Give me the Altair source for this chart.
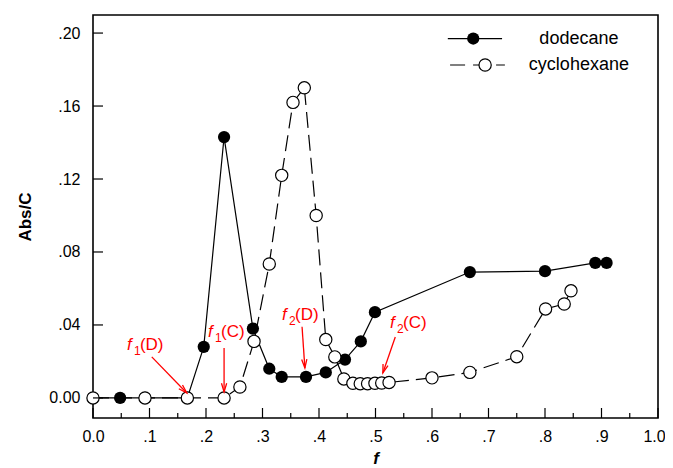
import altair as alt
import pandas as pd

# ---- data ----
dod_f = [0.0, 0.048, 0.092, 0.167, 0.196, 0.232, 0.283, 0.312, 0.334, 0.377,
         0.412, 0.446, 0.474, 0.499, 0.667, 0.800, 0.889, 0.909]
dod_v = [0.0, 0.0, 0.0, 0.0, 0.028, 0.143, 0.038, 0.016, 0.0115, 0.0115,
         0.014, 0.021, 0.031, 0.047, 0.069, 0.0695, 0.074, 0.074]

cyc_f = [0.0, 0.092, 0.167, 0.232, 0.260, 0.285, 0.312, 0.334, 0.354, 0.374,
         0.395, 0.412, 0.428, 0.444, 0.460, 0.473, 0.486, 0.499, 0.511, 0.524,
         0.600, 0.667, 0.750, 0.801, 0.834, 0.846]
cyc_v = [0.0, 0.0, 0.0, 0.0, 0.006, 0.031, 0.0734, 0.122, 0.162, 0.170,
         0.100, 0.032, 0.0225, 0.0104, 0.008, 0.0078, 0.0078, 0.008, 0.0082, 0.0085,
         0.011, 0.014, 0.0226, 0.0488, 0.0515, 0.0587]

x_ticks = [0.0, 0.1, 0.2, 0.3, 0.4, 0.5, 0.6, 0.7, 0.8, 0.9, 1.0]
x_minor = [0.05, 0.15, 0.25, 0.35, 0.45, 0.55, 0.65, 0.75, 0.85, 0.95]
y_ticks = [0.0, 0.04, 0.08, 0.12, 0.16, 0.20]

# annotations (red)
ann_sub = ["1", "1", "2", "2"]
ann_tail = ["(D)", "(C)", "(D)", "(C)"]
ann_x = [0.060, 0.2035, 0.3345, 0.5257]
ann_y = [0.0263, 0.0334, 0.0427, 0.0384]
arr_x1 = [0.104, 0.232, 0.370, 0.535]
arr_y1 = [0.0225, 0.0274, 0.0390, 0.0334]
arr_x2 = [0.166, 0.232, 0.375, 0.513]
arr_y2 = [0.0027, 0.0033, 0.0164, 0.0137]
arr_angle = [315, 0, 356, 18]

# legend
leg_names = ["dodecane", "cyclohexane"]
leg_y = [0.197, 0.1825]
leg_x1 = [0.628, 0.632]
leg_x2 = [0.724, 0.729]
leg_px = [0.673, 0.694]
leg_tx = 0.860

XD = [0.0, 1.0]
YD = [-0.011, 0.2099]
FONT = "Liberation Sans"

dod = pd.DataFrame({"f": dod_f, "v": dod_v})
cyc = pd.DataFrame({"f": cyc_f, "v": cyc_v})

xlabel = "datum.value == 0 ? '0.0' : (datum.value == 1 ? '1.0' : replace(format(datum.value, '.1f'), '0.', '.'))"
ylabel = "datum.value == 0 ? '0.00' : replace(format(datum.value, '.2f'), '0.', '.')"

xs = alt.Scale(domain=XD, nice=False, zero=False)
ys = alt.Scale(domain=YD, nice=False, zero=False)

X = alt.X("f:Q", scale=xs, axis=alt.Axis(values=x_ticks, labelExpr=xlabel, ticks=False,
          domain=False, grid=False, labelFont=FONT, labelFontSize=16, labelColor="black",
          labelPadding=10, labelFlush=False,
          labelOffset={"condition": {"test": "datum.value == 1", "value": -4}, "value": 0},
          title="f", titleFont=FONT, titleFontSize=17,
          titleFontWeight="bold", titleFontStyle="italic", titlePadding=6, titleColor="black"))
Y = alt.Y("v:Q", scale=ys, axis=alt.Axis(values=y_ticks, labelExpr=ylabel, ticks=False,
          domain=False, grid=False, labelFont=FONT, labelFontSize=16, labelColor="black",
          labelPadding=13, labelFlush=False, title="Abs/C", titleFont=FONT, titleFontSize=17,
          titleFontWeight="bold", titlePadding=14, titleColor="black"))

dod_line = alt.Chart(dod).mark_line(color="black", strokeWidth=1.2).encode(x=X, y=Y, order="f:Q")
dod_pts = alt.Chart(dod).mark_point(filled=True, color="black", size=150, opacity=1).encode(x="f:Q", y="v:Q")
cyc_line = alt.Chart(cyc).mark_line(color="black", strokeWidth=1.2, strokeDash=[16, 7]).encode(
    x="f:Q", y="v:Q", order="f:Q")
cyc_pts = alt.Chart(cyc).mark_point(filled=True, fill="white", stroke="black", strokeWidth=1.2,
                                     size=150, opacity=1).encode(x="f:Q", y="v:Q")

# inner ticks
xt = pd.DataFrame({"t": x_ticks})
xm = pd.DataFrame({"t": x_minor})
yt = pd.DataFrame({"t": y_ticks})
xtick = alt.Chart(xt).mark_rule(color="black", strokeWidth=1.2).encode(
    x=alt.X("t:Q", scale=xs), y=alt.value(403), y2=alt.value(393))
xmtick = alt.Chart(xm).mark_rule(color="black", strokeWidth=1.2).encode(
    x=alt.X("t:Q", scale=xs), y=alt.value(403), y2=alt.value(398))
ytick = alt.Chart(yt).mark_rule(color="black", strokeWidth=1.2).encode(
    y=alt.Y("t:Q", scale=ys), x=alt.value(0), x2=alt.value(10))

# annotations
ann = pd.DataFrame({"x": ann_x, "y": ann_y, "sub": ann_sub, "tail": ann_tail})
arr = pd.DataFrame({"x1": arr_x1, "y1": arr_y1, "x2": arr_x2, "y2": arr_y2, "a": arr_angle})
t_f = alt.Chart(ann).mark_text(text="f", font=FONT, fontSize=17, fontStyle="italic", color="red",
                               align="left", baseline="alphabetic").encode(x=alt.X("x:Q", scale=xs), y=alt.Y("y:Q", scale=ys))
t_sub = alt.Chart(ann).mark_text(font=FONT, fontSize=12, color="red", align="left",
                                 baseline="alphabetic", dx=7, dy=5).encode(x="x:Q", y="y:Q", text="sub:N")
t_tail = alt.Chart(ann).mark_text(font=FONT, fontSize=17, color="red", align="left",
                                  baseline="alphabetic", dx=13).encode(x="x:Q", y="y:Q", text="tail:N")
arr_line = alt.Chart(arr).mark_rule(color="red", strokeWidth=1.3).encode(
    x=alt.X("x1:Q", scale=xs), y=alt.Y("y1:Q", scale=ys), x2="x2:Q", y2="y2:Q")
arr_head = alt.Chart(arr).mark_point(shape="M -0.3 -1 L 0 0 L 0.3 -1", filled=False, color="red",
                                     strokeWidth=1.3, size=300, opacity=1).encode(
    x=alt.X("x2:Q", scale=xs), y=alt.Y("y2:Q", scale=ys), angle=alt.Angle("a:Q", scale=None))

# legend
leg = pd.DataFrame({"name": leg_names, "y": leg_y, "x1": leg_x1, "x2": leg_x2, "px": leg_px,
                    "tx": [leg_tx, leg_tx]})
leg_d = leg.iloc[[0]]
leg_c = leg.iloc[[1]]
l1 = alt.Chart(leg_d).mark_rule(color="black", strokeWidth=1.2).encode(
    x=alt.X("x1:Q", scale=xs), x2="x2:Q", y=alt.Y("y:Q", scale=ys))
l2 = alt.Chart(leg_c).mark_rule(color="black", strokeWidth=1.2, strokeDash=[15, 8]).encode(
    x=alt.X("x1:Q", scale=xs), x2="x2:Q", y=alt.Y("y:Q", scale=ys))
p1 = alt.Chart(leg_d).mark_point(filled=True, color="black", size=150, opacity=1).encode(
    x=alt.X("px:Q", scale=xs), y=alt.Y("y:Q", scale=ys))
p2 = alt.Chart(leg_c).mark_point(filled=True, fill="white", stroke="black", strokeWidth=1.2,
                                  size=150, opacity=1).encode(
    x=alt.X("px:Q", scale=xs), y=alt.Y("y:Q", scale=ys))
lt = alt.Chart(leg).mark_text(font=FONT, fontSize=18, color="black", align="center",
                              baseline="middle").encode(
    x=alt.X("tx:Q", scale=xs), y=alt.Y("y:Q", scale=ys), text="name:N")

chart = alt.layer(
    dod_line, dod_pts, cyc_line, cyc_pts, xtick, xmtick, ytick,
    arr_line, arr_head, t_f, t_sub, t_tail, l1, l2, p1, p2, lt
).properties(
    width=565, height=403,
    autosize=alt.AutoSizeParams(type="none"),
    padding={"left": 85, "top": 7, "right": 7, "bottom": 50},
).configure(background="white").configure_view(stroke="black", strokeWidth=1.6)

chart.save("out.html", embed_options={"renderer": "svg", "actions": False})
